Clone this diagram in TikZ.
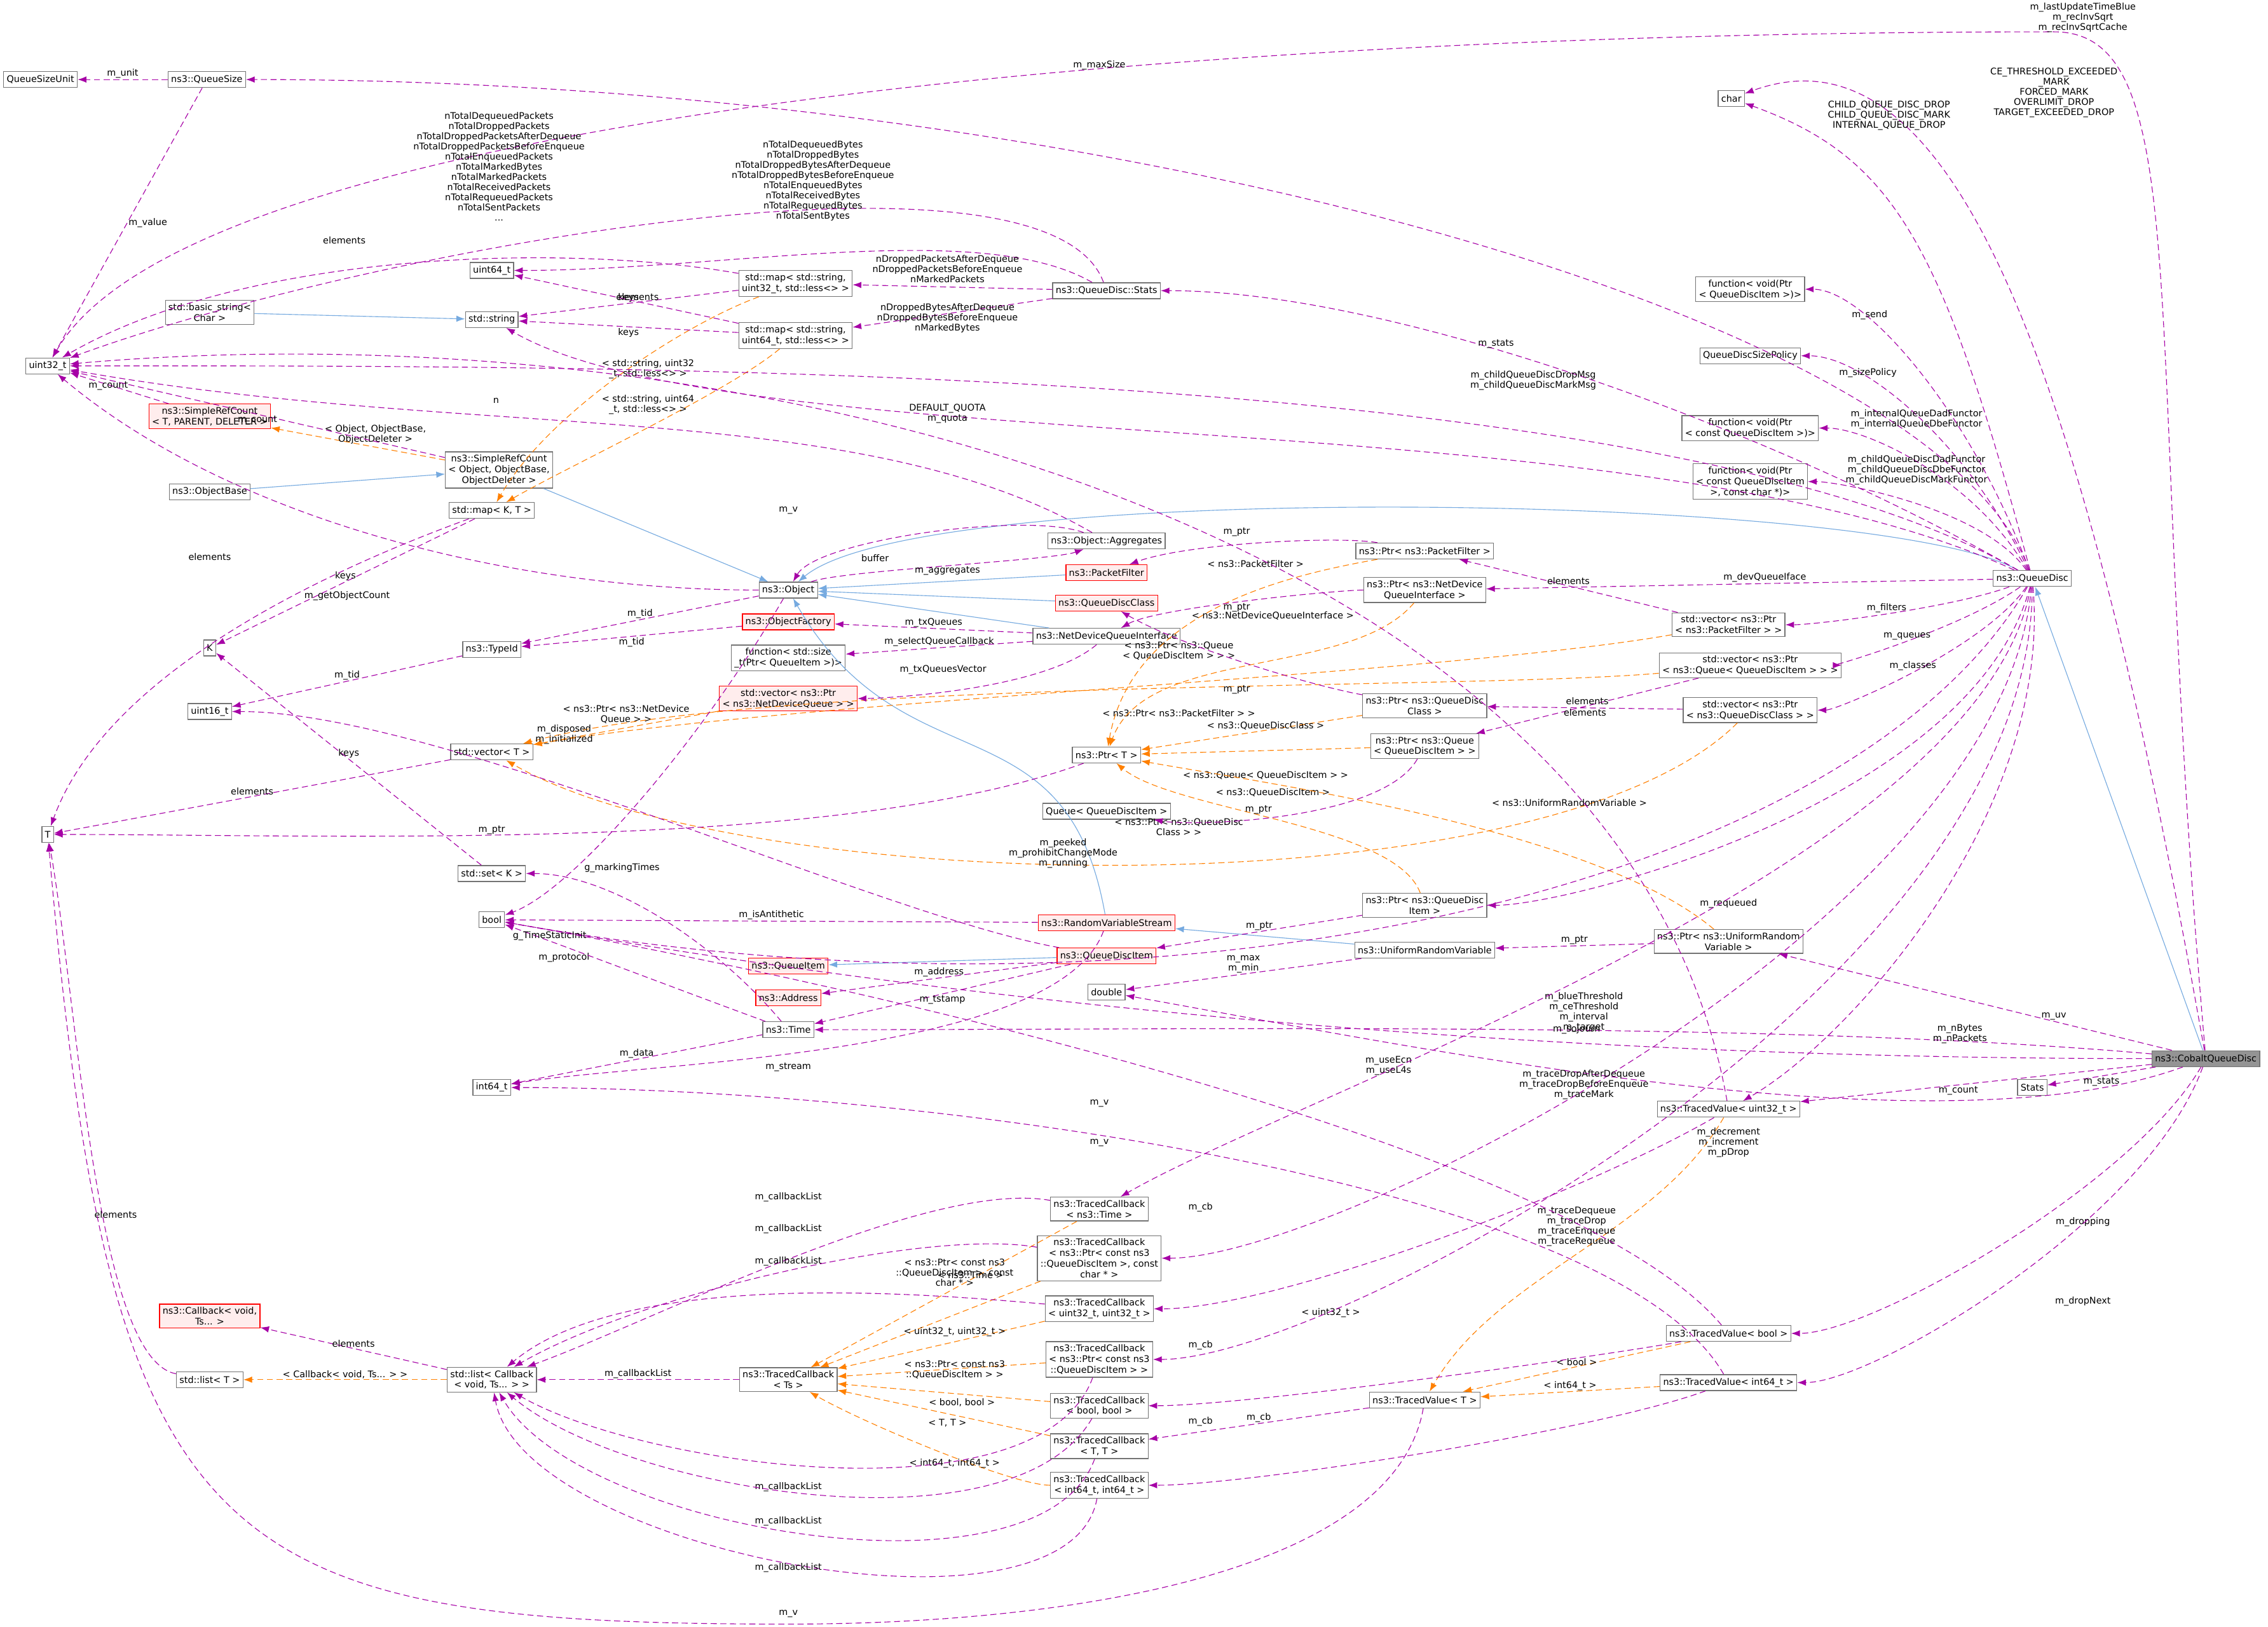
\documentclass[tikz,border=0pt]{standalone}
\usepackage{fontspec}
\setmainfont{DejaVu Sans}
\usetikzlibrary{arrows.meta,positioning,backgrounds}
\tikzset{
  cls/.style={draw=black!55,fill=white,line width=0.8pt,align=center,
    inner sep=3pt,minimum height=0.55cm,font=\fontsize{9}{10.5}\selectfont},
  redcls/.style={cls,draw=red,fill=red!7},
  mem/.style={draw=violet!70!magenta,line width=0.7pt,dash pattern=on 6pt off 3.5pt,
    -{Latex[length=0.3cm,width=0.22cm]}},
  inh/.style={draw=cyan!60!blue!55,line width=0.7pt,
    -{Latex[length=0.3cm,width=0.22cm]}},
  tpl/.style={draw=orange,line width=0.7pt,dash pattern=on 6pt off 3.5pt,
    -{Latex[length=0.3cm,width=0.22cm]}},
  lbl/.style={align=center,inner sep=1pt,font=\fontsize{9}{10}\selectfont}
}
\begin{document}
\begin{tikzpicture}[x=0.05cm,y=-0.05cm]
  \useasboundingbox[fill=white] (0,0) rectangle (1568,1125);

  % left column
  \node[cls] (unit) at (28,55) {QueueSizeUnit};
  \node[cls] (qsize) at (143,55) {ns3::QueueSize};
  \node[cls] (uint32) at (33,253) {uint32\_t};
  \node[redcls] (srcT) at (145,288) {ns3::SimpleRefCount\\< T, PARENT, DELETER >};
  \node[cls] (objbase) at (145,340) {ns3::ObjectBase};
  \node[cls] (bstring) at (145,216) {std::basic\_string<\\Char >};
  \node[cls] (keyK) at (145,448) {K};
  \node[cls] (uint16) at (145,492) {uint16\_t};
  \node[cls] (tT) at (33,577) {T};
  \node[redcls] (cback) at (145,910) {ns3::Callback< void,\\Ts... >};
  \node[cls] (listT) at (145,954) {std::list< T >};

  % second column
  \node[cls] (uint64) at (340,187) {uint64\_t};
  \node[cls] (string) at (340,221) {std::string};
  \node[cls] (srcobj) at (345,325) {ns3::SimpleRefCount\\< Object, ObjectBase,\\ObjectDeleter >};
  \node[cls] (mapKT) at (340,353) {std::map< K, T >};
  \node[cls] (typeid) at (340,449) {ns3::TypeId};
  \node[cls] (vecT) at (340,520) {std::vector< T >};
  \node[cls] (setK) at (340,604) {std::set< K >};
  \node[cls] (bool) at (340,636) {bool};
  \node[cls] (int64) at (340,752) {int64\_t};
  \node[cls] (listcb) at (340,954) {std::list< Callback\\< void, Ts... > >};

  % third column
  \node[cls] (map32) at (550,196) {std::map< std::string,\\uint32\_t, std::less<> >};
  \node[cls] (map64) at (550,232) {std::map< std::string,\\uint64\_t, std::less<> >};
  \node[cls] (object) at (545,408) {ns3::Object};
  \node[redcls] (objfac) at (545,430) {ns3::ObjectFactory};
  \node[cls] (fnsize) at (545,455) {function< std::size\\\_t(Ptr< QueueItem >)>};
  \node[redcls] (vecndq) at (545,483) {std::vector< ns3::Ptr\\< ns3::NetDeviceQueue > >};
  \node[redcls] (qitem) at (545,668) {ns3::QueueItem};
  \node[redcls] (addr) at (545,690) {ns3::Address};
  \node[cls] (time) at (545,712) {ns3::Time};
  \node[cls] (tcTs) at (545,954) {ns3::TracedCallback\\< Ts >};

  % fourth column
  \node[cls] (qstats) at (765,201) {ns3::QueueDisc::Stats};
  \node[cls] (aggr) at (765,374) {ns3::Object::Aggregates};
  \node[redcls] (pfilter) at (765,396) {ns3::PacketFilter};
  \node[redcls] (qdclass) at (765,417) {ns3::QueueDiscClass};
  \node[cls] (ndqi) at (765,440) {ns3::NetDeviceQueueInterface};
  \node[cls] (ptrT) at (765,522) {ns3::Ptr< T >};
  \node[cls] (queue) at (765,561) {Queue< QueueDiscItem >};
  \node[redcls] (rvs) at (765,638) {ns3::RandomVariableStream};
  \node[redcls] (qditem) at (765,661) {ns3::QueueDiscItem};
  \node[cls] (double) at (765,686) {double};
  \node[cls] (tctime) at (760,836) {ns3::TracedCallback\\< ns3::Time >};
  \node[cls] (tcpc) at (760,870) {ns3::TracedCallback\\< ns3::Ptr< const ns3\\::QueueDiscItem >, const\\char * >};
  \node[cls] (tcuu) at (760,905) {ns3::TracedCallback\\< uint32\_t, uint32\_t >};
  \node[cls] (tcp) at (760,940) {ns3::TracedCallback\\< ns3::Ptr< const ns3\\::QueueDiscItem > >};
  \node[cls] (tcbb) at (760,972) {ns3::TracedCallback\\< bool, bool >};
  \node[cls] (tctt) at (760,1000) {ns3::TracedCallback\\< T, T >};
  \node[cls] (tcii) at (760,1027) {ns3::TracedCallback\\< int64\_t, int64\_t >};

  % fifth column
  \node[cls] (ptrpf) at (985,381) {ns3::Ptr< ns3::PacketFilter >};
  \node[cls] (ptrndqi) at (985,408) {ns3::Ptr< ns3::NetDevice\\QueueInterface >};
  \node[cls] (ptrqdc) at (985,488) {ns3::Ptr< ns3::QueueDisc\\Class >};
  \node[cls] (ptrq) at (985,516) {ns3::Ptr< ns3::Queue\\< QueueDiscItem > >};
  \node[cls] (ptrqdi) at (985,626) {ns3::Ptr< ns3::QueueDisc\\Item >};
  \node[cls] (urv) at (985,657) {ns3::UniformRandomVariable};
  \node[cls] (tvT) at (985,968) {ns3::TracedValue< T >};

  % sixth column
  \node[cls] (char) at (1197,68) {char};
  \node[cls] (fnsend) at (1210,200) {function< void(Ptr\\< QueueDiscItem >)>};
  \node[cls] (policy) at (1210,246) {QueueDiscSizePolicy};
  \node[cls] (fnconst) at (1210,296) {function< void(Ptr\\< const QueueDiscItem >)>};
  \node[cls] (fnchar) at (1210,333) {function< void(Ptr\\< const QueueDiscItem\\>, const char *)>};
  \node[cls] (vecpf) at (1195,432) {std::vector< ns3::Ptr\\< ns3::PacketFilter > >};
  \node[cls] (vecq) at (1210,460) {std::vector< ns3::Ptr\\< ns3::Queue< QueueDiscItem > > >};
  \node[cls] (vecqdc) at (1210,491) {std::vector< ns3::Ptr\\< ns3::QueueDiscClass > >};
  \node[cls] (ptrurv) at (1195,651) {ns3::Ptr< ns3::UniformRandom\\Variable >};
  \node[cls] (tvu32) at (1195,767) {ns3::TracedValue< uint32\_t >};
  \node[cls] (tvbool) at (1195,922) {ns3::TracedValue< bool >};
  \node[cls] (tvi64) at (1195,956) {ns3::TracedValue< int64\_t >};

  % right column
  \node[cls] (qdisc) at (1405,400) {ns3::QueueDisc};
  \node[cls] (stats) at (1405,752) {Stats};
  \node[cls,fill=black!42] (cobalt) at (1525,732) {ns3::CobaltQueueDisc};

  % inheritance
  \draw[inh] (cobalt) -- (qdisc);
  \draw[inh] (qdisc) .. controls +(150:6cm) and +(40:6cm) .. (object);
  \draw[inh] (bstring) -- (string);
  \draw[inh] (objbase) -- (srcobj);
  \draw[inh] (srcobj) -- (object);
  \draw[inh] (pfilter) -- (object);
  \draw[inh] (qdclass) -- (object);
  \draw[inh] (ndqi) -- (object);
  \draw[inh] (rvs) .. controls +(100:8cm) and +(-60:8cm) .. (object);
  \draw[inh] (urv) -- (rvs);
  \draw[inh] (qditem) -- (qitem);

  % templates
  \draw[tpl] (srcobj) -- (srcT) node[lbl,pos=.4,above=2pt] {< Object, ObjectBase,\\ObjectDeleter >};
  \draw[tpl] (map32) .. controls +(200:4cm) and +(60:4cm) .. (mapKT);
  \node[lbl] at (448,255) {< std::string, uint32\\\_t, std::less<> >};
  \draw[tpl] (map64) .. controls +(220:3cm) and +(30:3cm) .. (mapKT);
  \node[lbl] at (448,280) {< std::string, uint64\\\_t, std::less<> >};
  \draw[tpl] (vecndq) -- (vecT) node[lbl,pos=.5,above=3pt] {< ns3::Ptr< ns3::NetDevice\\Queue > >};
  \draw[tpl] (vecpf) .. controls +(190:10cm) and +(10:10cm) .. (vecT);
  \node[lbl] at (815,493) {< ns3::Ptr< ns3::PacketFilter > >};
  \draw[tpl] (vecq) .. controls +(185:10cm) and +(15:10cm) .. (vecT);
  \node[lbl] at (815,450) {< ns3::Ptr< ns3::Queue\\< QueueDiscItem > > >};
  \draw[tpl] (vecqdc) .. controls +(225:10cm) and +(-30:10cm) .. (vecT);
  \node[lbl] at (815,572) {< ns3::Ptr< ns3::QueueDisc\\Class > >};
  \draw[tpl] (ptrpf) .. controls +(190:5cm) and +(80:5cm) .. (ptrT);
  \node[lbl] at (868,390) {< ns3::PacketFilter >};
  \draw[tpl] (ptrndqi) .. controls +(230:4cm) and +(70:4cm) .. (ptrT);
  \node[lbl] at (880,426) {< ns3::NetDeviceQueueInterface >};
  \draw[tpl] (ptrqdc) -- (ptrT);
  \node[lbl] at (875,502) {< ns3::QueueDiscClass >};
  \draw[tpl] (ptrq) -- (ptrT);
  \node[lbl] at (875,536) {< ns3::Queue< QueueDiscItem > >};
  \draw[tpl] (ptrqdi) .. controls +(110:3cm) and +(-40:3cm) .. (ptrT);
  \node[lbl] at (880,548) {< ns3::QueueDiscItem >};
  \draw[tpl] (ptrurv) .. controls +(140:6cm) and +(-10:6cm) .. (ptrT);
  \node[lbl] at (1085,555) {< ns3::UniformRandomVariable >};
  \draw[tpl] (tctime) -- (tcTs) node[lbl,pos=.4,above] {< ns3::Time >};
  \draw[tpl] (tcpc) -- (tcTs);
  \node[lbl] at (660,880) {< ns3::Ptr< const ns3\\::QueueDiscItem >, const\\char * >};
  \draw[tpl] (tcuu) -- (tcTs);
  \node[lbl] at (660,921) {< uint32\_t, uint32\_t >};
  \draw[tpl] (tcp) -- (tcTs);
  \node[lbl] at (660,947) {< ns3::Ptr< const ns3\\::QueueDiscItem > >};
  \draw[tpl] (tcbb) -- (tcTs);
  \node[lbl] at (665,970) {< bool, bool >};
  \draw[tpl] (tctt) -- (tcTs);
  \node[lbl] at (655,984) {< T, T >};
  \draw[tpl] (tcii) .. controls +(180:3cm) and +(-30:3cm) .. (tcTs);
  \node[lbl] at (660,1012) {< int64\_t, int64\_t >};
  \draw[tpl] (listcb) -- (listT) node[lbl,pos=.5,above] {< Callback< void, Ts... > >};
  \draw[tpl] (tvu32) .. controls +(240:5cm) and +(60:5cm) .. (tvT);
  \node[lbl] at (920,908) {< uint32\_t >};
  \draw[tpl] (tvbool) -- (tvT) node[lbl,pos=.5,above] {< bool >};
  \draw[tpl] (tvi64) -- (tvT) node[lbl,pos=.5,above] {< int64\_t >};

  % members of CobaltQueueDisc
  \draw[mem] (cobalt) .. controls +(95:25cm) and +(0:5cm) .. (1420,22)
    .. controls +(180:30cm) and +(60:10cm) .. (uint32);
  \node[lbl] at (1440,12) {m\_lastUpdateTimeBlue\\m\_recInvSqrt\\m\_recInvSqrtCache};
  \draw[mem] (cobalt) .. controls +(100:25cm) and +(20:8cm) .. (char);
  \node[lbl] at (1420,64) {CE\_THRESHOLD\_EXCEEDED\\\_MARK\\FORCED\_MARK\\OVERLIMIT\_DROP\\TARGET\_EXCEEDED\_DROP};
  \draw[mem] (cobalt) -- (stats) node[lbl,pos=.5,below] {m\_stats};
  \draw[mem] (cobalt) -- (tvu32) node[lbl,pos=.55,below] {m\_count};
  \draw[mem] (cobalt) .. controls +(240:5cm) and +(0:5cm) .. (tvbool);
  \node[lbl] at (1440,845) {m\_dropping};
  \draw[mem] (cobalt) .. controls +(250:6cm) and +(0:5cm) .. (tvi64);
  \node[lbl] at (1440,900) {m\_dropNext};
  \draw[mem] (cobalt) -- (ptrurv) node[lbl,pos=.3,above] {m\_uv};
  \draw[mem] (cobalt) .. controls +(175:15cm) and +(0:15cm) .. (time);
  \node[lbl] at (1095,700) {m\_blueThreshold\\m\_ceThreshold\\m\_interval\\m\_target};
  \draw[mem] (cobalt) .. controls +(180:20cm) and +(-10:20cm) .. (bool);
  \node[lbl] at (960,737) {m\_useEcn\\m\_useL4s};
  \draw[mem] (cobalt) .. controls +(200:10cm) and +(-10:10cm) .. (double);
  \node[lbl] at (1195,790) {m\_decrement\\m\_increment\\m\_pDrop};

  % members of QueueDisc
  \draw[mem] (qdisc) .. controls +(110:10cm) and +(0:30cm) .. (qsize);
  \node[lbl] at (760,45) {m\_maxSize};
  \draw[mem] (qdisc) .. controls +(105:12cm) and +(-20:6cm) .. (char);
  \node[lbl] at (1306,80) {CHILD\_QUEUE\_DISC\_DROP\\CHILD\_QUEUE\_DISC\_MARK\\INTERNAL\_QUEUE\_DROP};
  \draw[mem] (qdisc) .. controls +(110:6cm) and +(0:4cm) .. (fnsend) node[lbl,pos=.7,above] {m\_send};
  \draw[mem] (qdisc) .. controls +(150:10cm) and +(0:10cm) .. (qstats) node[lbl,pos=.6,above] {m\_stats};
  \draw[mem] (qdisc) .. controls +(115:5cm) and +(0:4cm) .. (policy) node[lbl,pos=.7,above] {m\_sizePolicy};
  \draw[mem] (qdisc) .. controls +(150:15cm) and +(0:20cm) .. (uint32);
  \node[lbl] at (1060,263) {m\_childQueueDiscDropMsg\\m\_childQueueDiscMarkMsg};
  \draw[mem] (qdisc) .. controls +(120:4cm) and +(0:4cm) .. (fnconst);
  \node[lbl] at (1325,290) {m\_internalQueueDadFunctor\\m\_internalQueueDbeFunctor};
  \draw[mem] (qdisc) .. controls +(125:3cm) and +(0:3cm) .. (fnchar);
  \node[lbl] at (1325,325) {m\_childQueueDiscDadFunctor\\m\_childQueueDiscDbeFunctor\\m\_childQueueDiscMarkFunctor};
  \draw[mem] (qdisc) .. controls +(155:15cm) and +(-30:10cm) .. (string);
  \node[lbl] at (655,286) {DEFAULT\_QUOTA\\m\_quota};
  \draw[mem] (qdisc) -- (ptrndqi) node[lbl,pos=.45,above] {m\_devQueueIface};
  \draw[mem] (qdisc) .. controls +(200:3cm) and +(0:3cm) .. (vecpf) node[lbl,pos=.5,above] {m\_filters};
  \draw[mem] (qdisc) .. controls +(215:3cm) and +(0:3cm) .. (vecq) node[lbl,pos=.5,above] {m\_queues};
  \draw[mem] (qdisc) .. controls +(235:3cm) and +(0:3cm) .. (vecqdc) node[lbl,pos=.5,above] {m\_classes};
  \draw[mem] (qdisc) .. controls +(240:12cm) and +(-10:25cm) .. (bool);
  \node[lbl] at (735,590) {m\_peeked\\m\_prohibitChangeMode\\m\_running};
  \draw[mem] (qdisc) .. controls +(255:8cm) and +(0:5cm) .. (ptrqdi);
  \node[lbl] at (1195,625) {m\_requeued};
  \draw[mem] (qdisc) .. controls +(260:10cm) and +(30:8cm) .. (tctime);
  \node[lbl] at (1090,712) {m\_sojourn};
  \draw[mem] (qdisc) .. controls +(275:8cm) and +(30:5cm) .. (tvu32);
  \node[lbl] at (1355,715) {m\_nBytes\\m\_nPackets};
  \draw[mem] (qdisc) .. controls +(265:12cm) and +(0:8cm) .. (tcpc);
  \node[lbl] at (1095,750) {m\_traceDropAfterDequeue\\m\_traceDropBeforeEnqueue\\m\_traceMark};
  \draw[mem] (qdisc) .. controls +(270:14cm) and +(0:8cm) .. (tcp);
  \node[lbl] at (1090,848) {m\_traceDequeue\\m\_traceDrop\\m\_traceEnqueue\\m\_traceRequeue};

  % members of the other classes
  \draw[mem] (qsize) -- (unit) node[lbl,pos=.5,above] {m\_unit};
  \draw[mem] (qsize) -- (uint32) node[lbl,pos=.5,right] {m\_value};
  \draw[mem] (qstats) .. controls +(110:6cm) and +(20:12cm) .. (uint32);
  \node[lbl] at (345,115) {nTotalDequeuedPackets\\nTotalDroppedPackets\\nTotalDroppedPacketsAfterDequeue\\nTotalDroppedPacketsBeforeEnqueue\\nTotalEnqueuedPackets\\nTotalMarkedBytes\\nTotalMarkedPackets\\nTotalReceivedPackets\\nTotalRequeuedPackets\\nTotalSentPackets\\...};
  \draw[mem] (qstats) .. controls +(150:5cm) and +(0:8cm) .. (uint64);
  \node[lbl] at (562,125) {nTotalDequeuedBytes\\nTotalDroppedBytes\\nTotalDroppedBytesAfterDequeue\\nTotalDroppedBytesBeforeEnqueue\\nTotalEnqueuedBytes\\nTotalReceivedBytes\\nTotalRequeuedBytes\\nTotalSentBytes};
  \draw[mem] (qstats) -- (map32);
  \node[lbl] at (655,186) {nDroppedPacketsAfterDequeue\\nDroppedPacketsBeforeEnqueue\\nMarkedPackets};
  \draw[mem] (qstats) -- (map64);
  \node[lbl] at (655,220) {nDroppedBytesAfterDequeue\\nDroppedBytesBeforeEnqueue\\nMarkedBytes};
  \draw[mem] (map32) .. controls +(170:8cm) and +(30:8cm) .. (uint32);
  \node[lbl] at (238,166) {elements};
  \draw[mem] (map32) -- (string) node[lbl,pos=.5,above] {keys};
  \draw[mem] (map64) -- (uint64) node[lbl,pos=.45,above] {elements};
  \draw[mem] (map64) -- (string) node[lbl,pos=.5,below] {keys};
  \draw[mem] (srcT) -- (uint32) node[lbl,pos=.4,above left] {m\_count};
  \draw[mem] (srcobj) -- (uint32) node[lbl,pos=.5,below] {m\_count};
  \draw[mem] (mapKT) -- (keyK) node[lbl,pos=.5,above] {keys};
  \draw[mem] (mapKT) .. controls +(200:6cm) and +(70:6cm) .. (tT);
  \node[lbl] at (145,385) {elements};
  \draw[mem] (object) .. controls +(180:10cm) and +(-40:8cm) .. (uint32);
  \node[lbl] at (240,412) {m\_getObjectCount};
  \draw[mem] (object) -- (typeid) node[lbl,pos=.5,above] {m\_tid};
  \draw[mem] (objfac) -- (typeid) node[lbl,pos=.5,below] {m\_tid};
  \draw[mem] (object) .. controls +(20:2cm) and +(200:2cm) .. (aggr) node[lbl,pos=.5,below] {m\_aggregates};
  \draw[mem] (aggr) .. controls +(160:3cm) and +(60:2cm) .. (object);
  \node[lbl] at (605,386) {buffer};
  \draw[mem] (aggr) .. controls +(150:10cm) and +(-10:15cm) .. (uint32);
  \node[lbl] at (343,277) {n};
  \draw[mem] (object) .. controls +(240:6cm) and +(20:3cm) .. (bool);
  \node[lbl] at (390,508) {m\_disposed\\m\_initialized};
  \draw[mem] (ndqi) -- (objfac) node[lbl,pos=.5,above] {m\_txQueues};
  \draw[mem] (ndqi) -- (fnsize) node[lbl,pos=.5,above] {m\_selectQueueCallback};
  \draw[mem] (ndqi) .. controls +(220:3cm) and +(0:3cm) .. (vecndq);
  \node[lbl] at (652,463) {m\_txQueuesVector};
  \draw[mem] (vecT) -- (tT) node[lbl,pos=.5,above] {elements};
  \draw[mem] (ptrT) .. controls +(200:10cm) and +(0:10cm) .. (tT);
  \node[lbl] at (340,574) {m\_ptr};
  \draw[mem] (vecpf) -- (ptrpf) node[lbl,pos=.5,above] {elements};
  \draw[mem] (vecq) -- (ptrq) node[lbl,pos=.5,above] {elements};
  \draw[mem] (vecqdc) -- (ptrqdc) node[lbl,pos=.5,below] {elements};
  \draw[mem] (ptrpf) .. controls +(170:3cm) and +(20:3cm) .. (pfilter);
  \node[lbl] at (855,368) {m\_ptr};
  \draw[mem] (ptrndqi) .. controls +(180:3cm) and +(30:2cm) .. (ndqi);
  \node[lbl] at (855,420) {m\_ptr};
  \draw[mem] (ptrqdc) .. controls +(170:4cm) and +(-30:3cm) .. (qdclass);
  \node[lbl] at (855,477) {m\_ptr};
  \draw[mem] (ptrq) .. controls +(240:3cm) and +(-10:3cm) .. (queue);
  \node[lbl] at (870,560) {m\_ptr};
  \draw[mem] (ptrqdi) -- (qditem) node[lbl,pos=.5,above] {m\_ptr};
  \draw[mem] (ptrurv) -- (urv) node[lbl,pos=.5,above] {m\_ptr};
  \draw[mem] (urv) -- (double) node[lbl,pos=.5,above] {m\_max\\m\_min};
  \draw[mem] (rvs) -- (bool) node[lbl,pos=.5,above] {m\_isAntithetic};
  \draw[mem] (rvs) .. controls +(250:5cm) and +(10:5cm) .. (int64);
  \node[lbl] at (545,738) {m\_stream};
  \draw[mem] (qditem) -- (addr) node[lbl,pos=.5,above] {m\_address};
  \draw[mem] (qditem) -- (time) node[lbl,pos=.5,below] {m\_tstamp};
  \draw[mem] (qditem) .. controls +(170:8cm) and +(0:8cm) .. (uint16);
  \node[lbl] at (390,662) {m\_protocol};
  \draw[mem] (time) .. controls +(160:3cm) and +(-20:3cm) .. (bool);
  \node[lbl] at (380,647) {g\_TimeStaticInit};
  \draw[mem] (time) .. controls +(130:4cm) and +(0:4cm) .. (setK);
  \node[lbl] at (430,600) {g\_markingTimes};
  \draw[mem] (time) -- (int64) node[lbl,pos=.5,above] {m\_data};
  \draw[mem] (setK) -- (keyK) node[lbl,pos=.5,above] {keys};
  \draw[mem] (typeid) -- (uint16) node[lbl,pos=.5,above] {m\_tid};
  \draw[mem] (tctime) .. controls +(170:6cm) and +(20:6cm) .. (listcb);
  \node[lbl] at (545,828) {m\_callbackList};
  \draw[mem] (tcpc) .. controls +(170:6cm) and +(30:6cm) .. (listcb);
  \node[lbl] at (545,850) {m\_callbackList};
  \draw[mem] (tcuu) .. controls +(175:6cm) and +(40:6cm) .. (listcb);
  \node[lbl] at (545,872) {m\_callbackList};
  \draw[mem] (tcp) .. controls +(250:6cm) and +(-30:6cm) .. (listcb);
  \node[lbl] at (545,1028) {m\_callbackList};
  \draw[mem] (tcbb) .. controls +(240:6cm) and +(-40:6cm) .. (listcb);
  \draw[mem] (tctt) .. controls +(250:6cm) and +(-60:6cm) .. (listcb);
  \node[lbl] at (545,1052) {m\_callbackList};
  \draw[mem] (tcii) .. controls +(260:6cm) and +(-80:6cm) .. (listcb);
  \node[lbl] at (545,1084) {m\_callbackList};
  \draw[mem] (tcTs) -- (listcb) node[lbl,pos=.5,above] {m\_callbackList};
  \draw[mem] (listcb) -- (cback) node[lbl,pos=.5,above] {elements};
  \draw[mem] (listT) .. controls +(170:4cm) and +(-80:6cm) .. (tT);
  \node[lbl] at (80,840) {elements};
  \draw[mem] (tvu32) .. controls +(100:20cm) and +(5:25cm) .. (uint32);
  \node[lbl] at (545,353) {m\_v};
  \draw[mem] (tvu32) .. controls +(210:6cm) and +(0:6cm) .. (tcuu);
  \node[lbl] at (830,835) {m\_cb};
  \draw[mem] (tvbool) .. controls +(130:8cm) and +(-10:15cm) .. (bool);
  \node[lbl] at (760,763) {m\_v};
  \draw[mem] (tvi64) .. controls +(120:8cm) and +(0:15cm) .. (int64);
  \node[lbl] at (760,790) {m\_v};
  \draw[mem] (tvbool) .. controls +(190:5cm) and +(0:5cm) .. (tcbb);
  \node[lbl] at (830,930) {m\_cb};
  \draw[mem] (tvi64) .. controls +(200:5cm) and +(0:5cm) .. (tcii);
  \node[lbl] at (830,983) {m\_cb};
  \draw[mem] (tvT) -- (tctt) node[lbl,pos=.5,above] {m\_cb};
  \draw[mem] (tvT) .. controls +(260:6cm) and +(0:10cm) .. (545,1123)
    .. controls +(180:20cm) and +(-85:25cm) .. (tT);
  \node[lbl] at (545,1116) {m\_v};
\end{tikzpicture}
\end{document}
